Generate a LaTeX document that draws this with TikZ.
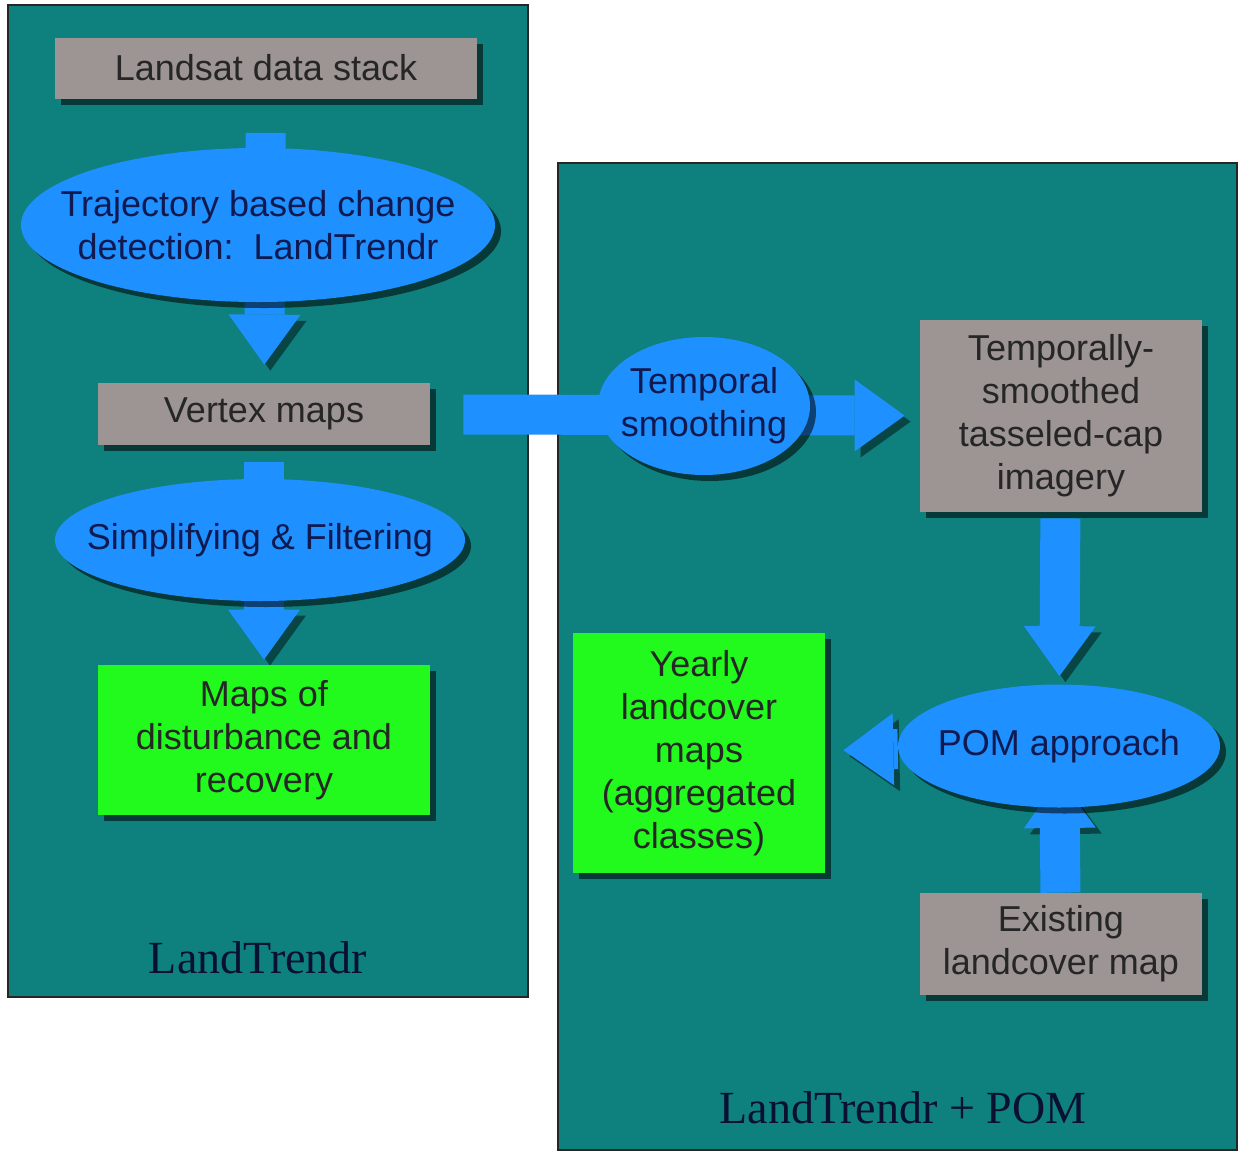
\documentclass[tikz,border=0pt]{standalone}
\usepackage{fontspec}
\setmainfont{Liberation Serif}
\setsansfont{Liberation Sans}
\usetikzlibrary{shapes.geometric,shadows,arrows.meta}
\definecolor{panelteal}{RGB}{14,128,126}
\definecolor{ellblue}{RGB}{30,144,255}
\definecolor{boxgray}{RGB}{156,149,148}
\definecolor{mapgreen}{RGB}{34,250,30}
\definecolor{navytext}{RGB}{16,26,80}
\pgfdeclarelayer{back}
\pgfdeclarelayer{mid}
\pgfsetlayers{back,mid,main}
\tikzset{
  panel/.style={draw=black!85, line width=1pt, fill=panelteal},
  boxshadow/.style={drop shadow={shadow xshift=3pt, shadow yshift=-3pt, opacity=.55, fill=black}},
  databox/.style={rectangle, fill=boxgray, boxshadow, align=center, inner sep=0pt,
    text=black!85, font=\sffamily\fontsize{18pt}{21.5pt}\selectfont},
  mapbox/.style={databox, fill=mapgreen},
  procell/.style={ellipse, fill=ellblue, boxshadow, align=center, inner sep=-25pt,
    text=navytext, font=\sffamily\fontsize{18pt}{21.5pt}\selectfont},
  fatarrow/.style={draw=ellblue, line width=20pt,
    -{Triangle[width=36pt, length=25pt, line width=0pt]},
    preaction={draw=black, opacity=.45, transform canvas={xshift=3pt, yshift=-3pt}}},
  paneltitle/.style={font=\rmfamily\fontsize{23pt}{26pt}\selectfont, text=navytext!60!black}
}
\begin{document}
\begin{tikzpicture}[x=0.5pt, y=-0.5pt]
\useasboundingbox (0,0) rectangle (1239,1152);
\begin{pgfonlayer}{back}
\draw[panel] (8,5) rectangle (528,997);
\draw[panel] (558,163) rectangle (1237,1150);
\end{pgfonlayer}
% LandTrendr
\node (land) [databox, minimum width=211pt, minimum height=30.5pt] at (266,68) {Landsat data stack};
\node (traj) [procell, minimum width=237pt, minimum height=77pt] at (258,225) {Trajectory based change\\detection:\ \ LandTrendr};
\node (vert) [databox, minimum width=166pt, minimum height=31pt] at (264,414) {Vertex maps};
\node (simp) [procell, minimum width=205pt, minimum height=61pt] at (260,540) {Simplifying \& Filtering};
\node (dist) [mapbox, minimum width=166pt, minimum height=75pt] at (264,740) {Maps of\\disturbance and\\recovery};
\node (lttitle) [paneltitle] at (258,958) {LandTrendr};
% LandTrendr + POM
\node (tsmooth) [procell, minimum width=106pt, minimum height=69pt] at (704,406) {Temporal\\smoothing};
\node (tsbox) [databox, minimum width=141pt, minimum height=96pt] at (1061,416) {Temporally-\\smoothed\\tasseled-cap\\imagery};
\node (pom) [procell, minimum width=161pt, minimum height=61.5pt] at (1059,746) {POM approach};
\node (yearly) [mapbox, minimum width=126pt, minimum height=120pt] at (699,753) {Yearly\\landcover\\maps\\(aggregated\\classes)};
\node (exist) [databox, minimum width=141pt, minimum height=51pt] at (1061,944) {Existing\\landcover map};
\node (pomtitle) [paneltitle] at (903,1108) {LandTrendr + POM};
\begin{pgfonlayer}{mid}
\draw[fatarrow, shorten <=17pt, shorten >=9pt] (land) -- (vert);
\draw[fatarrow, shorten <=8.5pt, shorten >=2.5pt] (vert) -- (dist);
\draw[fatarrow, shorten <=16.5pt, shorten >=7.5pt] (vert) -- (tsbox);
\draw[fatarrow, shorten <=3pt, shorten >=4pt] (tsbox) -- (pom);
\draw[fatarrow, shorten >=9pt] (pom) -- (yearly);
\draw[fatarrow, shorten >=16pt] (exist) -- (pom.center);
\end{pgfonlayer}
\end{tikzpicture}
\end{document}
